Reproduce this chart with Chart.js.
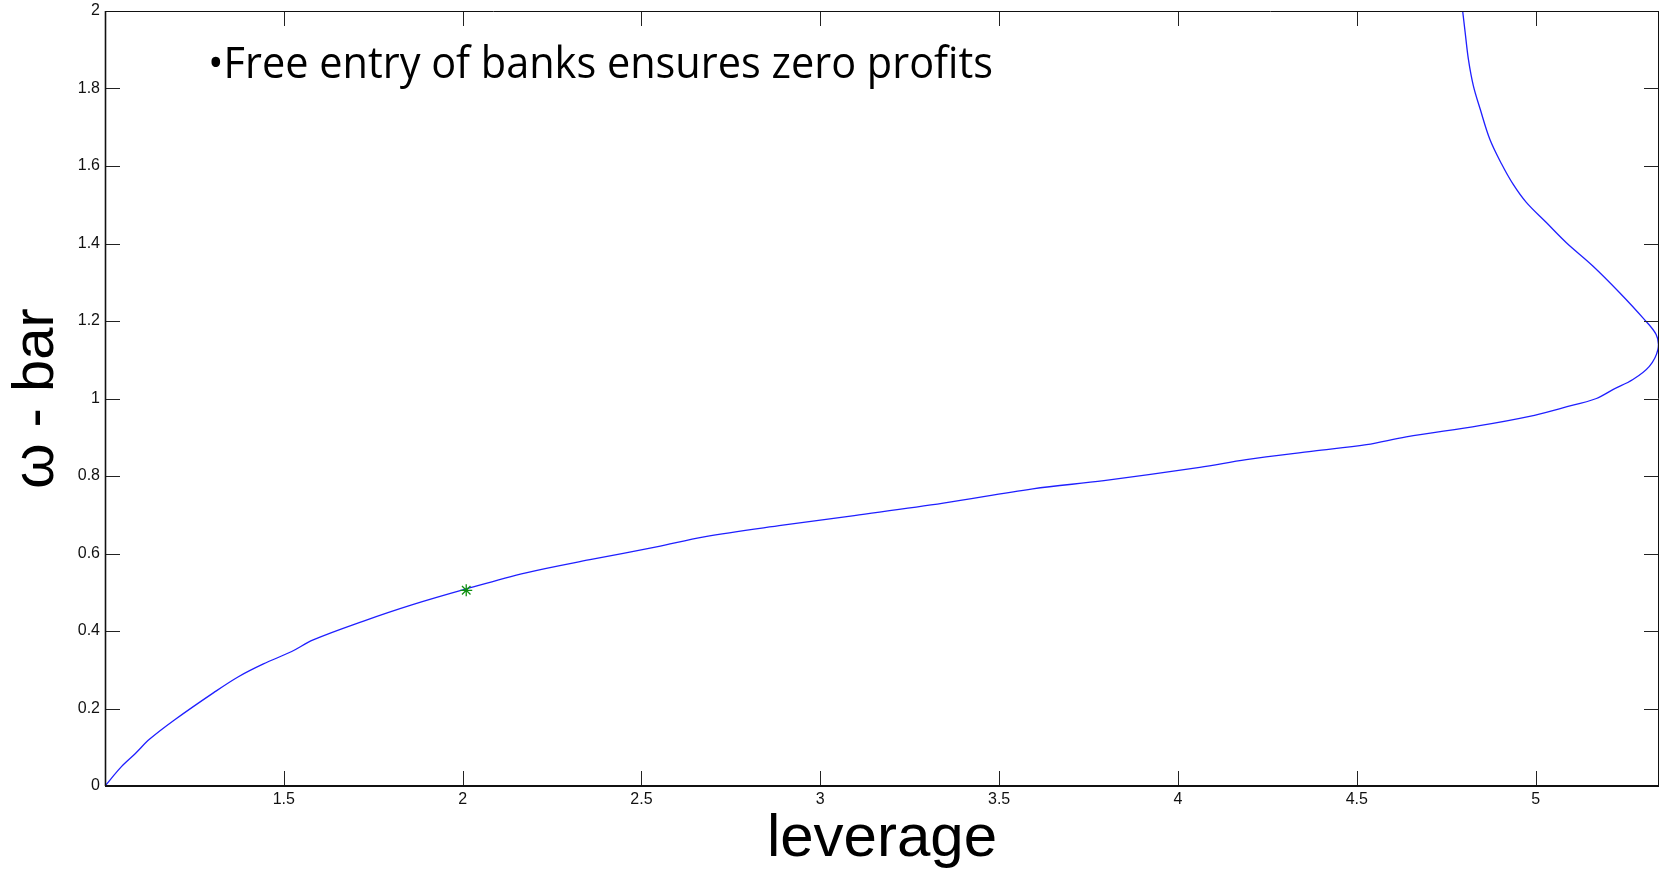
<!DOCTYPE html>
<html>
<head>
<meta charset="utf-8">
<title>omega-bar vs leverage</title>
<script src="https://cdn.jsdelivr.net/npm/chart.js@4.4.1/dist/chart.umd.min.js"></script>
<style>
  html, body { margin: 0; padding: 0; background: #fff; }
  #wrap { width: 1660px; height: 875px; }
</style>
</head>
<body>
<div id="wrap"><canvas id="omegaChart" width="1660" height="875"></canvas></div>
<script>
// curve, in drawing order (it bends back near the top)
const leverage = [
  1.000, 1.046, 1.085, 1.125, 1.195, 1.304, 1.373, 1.443, 1.522, 1.582,
  1.721, 1.860, 2.008, 2.177, 2.356, 2.542, 2.675, 2.895, 3.095, 3.344,
  3.594, 3.793, 4.061, 4.191, 4.378, 4.527, 4.638, 4.843, 4.983, 5.076,
  5.170, 5.216, 5.272, 5.318, 5.342, 5.337, 5.300, 5.235, 5.160, 5.086,
  5.030, 4.974, 4.937, 4.905, 4.872, 4.845, 4.826, 4.812, 4.803, 4.796
];
const omegaBar = [
  0.000, 0.050, 0.084, 0.121, 0.171, 0.241, 0.282, 0.315, 0.347, 0.377,
  0.425, 0.468, 0.508, 0.550, 0.584, 0.617, 0.643, 0.673, 0.698, 0.730,
  0.767, 0.788, 0.822, 0.842, 0.864, 0.881, 0.901, 0.930, 0.954, 0.976,
  1.000, 1.023, 1.049, 1.083, 1.127, 1.165, 1.208, 1.273, 1.342, 1.402,
  1.454, 1.506, 1.553, 1.605, 1.669, 1.747, 1.807, 1.876, 1.945, 2.000
];

// the green star on the curve
const starX = [2.01];
const starY = [0.505];

const xTicks = [1.5, 2, 2.5, 3, 3.5, 4, 4.5, 5];
const xTickLabels = ['1.5', '2', '2.5', '3', '3.5', '4', '4.5', '5'];
const yTicks = [0, 0.2, 0.4, 0.6, 0.8, 1, 1.2, 1.4, 1.6, 1.8, 2];
const yTickLabels = ['0', '0.2', '0.4', '0.6', '0.8', '1', '1.2', '1.4', '1.6', '1.8', '2'];

const noteText = '\u2022Free entry of banks ensures zero profits';

const axisFont = '"Liberation Sans", Arial, Helvetica, sans-serif';

// matlab style box with inward ticks on all four sides
const boxAndTicks = {
  id: 'boxAndTicks',
  afterDatasetsDraw(chart) {
    const { ctx, chartArea: a, scales: { x, y } } = chart;
    const len = 15;
    ctx.save();
    ctx.strokeStyle = '#222';
    ctx.lineWidth = 1;
    ctx.beginPath();
    xTicks.forEach(v => {
      const px = Math.round(x.getPixelForValue(v)) + 0.5;
      ctx.moveTo(px, a.bottom); ctx.lineTo(px, a.bottom - len);
      ctx.moveTo(px, a.top); ctx.lineTo(px, a.top + len);
    });
    yTicks.forEach(v => {
      const py = Math.round(y.getPixelForValue(v)) + 0.5;
      ctx.moveTo(a.left, py); ctx.lineTo(a.left + len, py);
      ctx.moveTo(a.right, py); ctx.lineTo(a.right - len, py);
    });
    ctx.stroke();

    ctx.strokeStyle = '#111';
    ctx.beginPath();
    ctx.moveTo(a.left, a.top + 0.5); ctx.lineTo(a.right, a.top + 0.5);
    ctx.moveTo(a.right - 0.5, a.top); ctx.lineTo(a.right - 0.5, a.bottom);
    ctx.stroke();
    ctx.lineWidth = 1.6;
    ctx.beginPath();
    ctx.moveTo(a.left + 0.5, a.top); ctx.lineTo(a.left + 0.5, a.bottom);
    ctx.stroke();
    ctx.lineWidth = 2.2;
    ctx.beginPath();
    ctx.moveTo(a.left, a.bottom); ctx.lineTo(a.right, a.bottom);
    ctx.stroke();
    ctx.restore();
  },
  afterDraw(chart) {
    const ctx = chart.ctx;
    ctx.save();
    ctx.fillStyle = '#000';
    ctx.font = '43px "Open Sans", "Noto Sans", sans-serif';
    ctx.textBaseline = 'alphabetic';
    ctx.textAlign = 'left';
    ctx.fillText(noteText, 208, 78, 785);
    ctx.restore();
  }
};

const ctx = document.getElementById('omegaChart').getContext('2d');
new Chart(ctx, {
  type: 'scatter',
  data: {
    datasets: [
      {
        label: 'omega-bar',
        data: leverage.map((v, i) => ({ x: v, y: omegaBar[i] })),
        showLine: true,
        borderColor: '#1f1fff',
        borderWidth: 1.3,
        pointRadius: 0,
        tension: 0.35,
        order: 2
      },
      {
        label: 'point',
        data: starX.map((v, i) => ({ x: v, y: starY[i] })),
        showLine: false,
        pointStyle: 'star',
        pointRadius: 6,
        borderColor: '#109010',
        backgroundColor: '#109010',
        borderWidth: 1.3,
        order: 1
      }
    ]
  },
  options: {
    responsive: false,
    animation: false,
    devicePixelRatio: 1,
    layout: {
      autoPadding: false,
      padding: { top: 11, right: 1, left: 0, bottom: 0 }
    },
    plugins: {
      legend: { display: false },
      tooltip: { enabled: false }
    },
    scales: {
      x: {
        type: 'linear',
        min: 1,
        max: 5.345,
        afterBuildTicks: (scale) => { scale.ticks = xTicks.map(v => ({ value: v })); },
        afterFit: (scale) => {
          scale.height = 89;
          scale.paddingLeft = 0;
          scale.paddingRight = 0;
        },
        grid: { display: false, drawTicks: false },
        border: { display: false },
        ticks: {
          padding: 4,
          color: '#111',
          font: { family: axisFont, size: 16 },
          maxRotation: 0,
          callback: (value) => xTickLabels[xTicks.indexOf(value)]
        },
        title: {
          display: true,
          text: 'leverage',
          color: '#000',
          font: { family: axisFont, size: 60 },
          padding: { top: 0, bottom: 0 }
        }
      },
      y: {
        type: 'linear',
        min: 0,
        max: 2,
        afterBuildTicks: (scale) => { scale.ticks = yTicks.map(v => ({ value: v })); },
        afterFit: (scale) => {
          scale.width = 105;
          scale.paddingTop = 0;
          scale.paddingBottom = 0;
        },
        grid: { display: false, drawTicks: false },
        border: { display: false },
        ticks: {
          padding: 5,
          color: '#111',
          font: { family: axisFont, size: 16 },
          callback: (value) => yTickLabels[yTicks.indexOf(value)]
        },
        title: {
          display: true,
          text: '\u03c9 - bar',
          color: '#000',
          font: { family: axisFont, size: 58 },
          padding: { top: 2, bottom: 0 }
        }
      }
    }
  },
  plugins: [boxAndTicks]
});
</script>
</body>
</html>
